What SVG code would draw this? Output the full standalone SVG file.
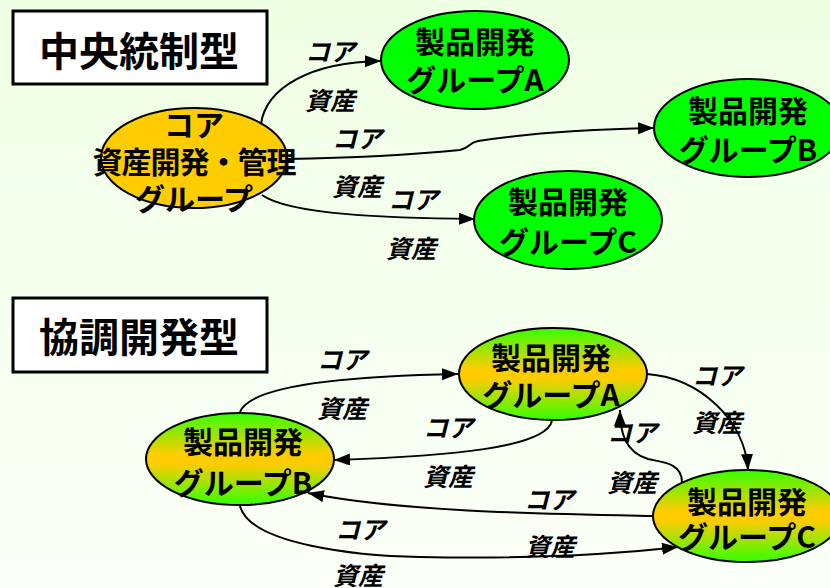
<svg xmlns="http://www.w3.org/2000/svg" width="830" height="588" viewBox="0 0 830 588">
<defs>
<linearGradient id="bg" x1="0" y1="0" x2="0" y2="1">
<stop offset="0" stop-color="#EFFFE4"/>
<stop offset="1" stop-color="#FBFFF8"/>
</linearGradient>
<linearGradient id="mix" x1="0" y1="0" x2="0" y2="1">
<stop offset="0" stop-color="#33FF00"/>
<stop offset="0.45" stop-color="#FFCC00"/>
<stop offset="0.55" stop-color="#FFCC00"/>
<stop offset="1" stop-color="#33FF00"/>
</linearGradient>
<marker id="arr" markerUnits="userSpaceOnUse" markerWidth="18" markerHeight="14" refX="16" refY="6" orient="auto">
<path d="M0,0 L16,6 L0,12 z" fill="#000"/>
</marker>
<style>
text{font-family:"Noto Sans CJK JP","Noto Sans",sans-serif;fill:#000;text-anchor:middle}
.title{font-size:40px;font-weight:bold}
.node{font-size:30px;font-weight:bold}
.lbl{font-size:25px;font-weight:bold;font-style:italic}
.box{fill:#fff;stroke:#000;stroke-width:3}
.ell{stroke:#000;stroke-width:2}
.green{fill:#00FF00}
.core{fill:#FFCC00}
.mixed{fill:url(#mix)}
.conn path{fill:none;stroke:#000;stroke-width:2;marker-end:url(#arr)}
</style>
</defs>
<rect x="0" y="0" width="830" height="588" fill="url(#bg)"/>

<g id="title-top">
<rect class="box" x="13" y="11" width="254" height="73"/>
<text class="title" x="139" y="66">中央統制型</text>
</g>
<g id="title-bottom">
<rect class="box" x="13" y="298" width="254" height="74"/>
<text class="title" x="139" y="352">協調開発型</text>
</g>

<g id="connectors-top" class="conn">
<path d="M261,124 C266,88 310,62 381,61"/>
<path d="M287,159 C350,158 400,156 460,150 C470,148 468,143 478,141 C530,133 600,129 654,128"/>
<path d="M262,195 C290,215 390,218 475,219"/>
</g>
<g id="connectors-bottom" class="conn">
<path d="M240,412 C250,385 350,376 458,374"/>
<path d="M552,421 C545,448 450,456 334,460"/>
<path d="M653,516 C550,514 400,512 308,493"/>
<path d="M240,506 C250,545 360,556 420,557 C520,559 600,556 678,547"/>
<path d="M647,374 C700,378 745,420 748,470"/>
<path d="M682,482 C682,462 660,462 648,459 C625,452 620,432 620,410"/>
</g>

<g id="core">
<ellipse class="ell core" cx="194" cy="158" rx="93" ry="50"/>
<text class="node" x="194" y="136">コア</text>
<text class="node" x="194" y="173" letter-spacing="-1">資産開発・管理</text>
<text class="node" x="194" y="210">グループ</text>
</g>
<g id="top-A">
<ellipse class="ell green" cx="475" cy="60" rx="94" ry="49"/>
<text class="node" x="475" y="53">製品開発</text>
<text class="node" x="475" y="91">グループA</text>
</g>
<g id="top-B">
<ellipse class="ell green" cx="748" cy="128" rx="94" ry="49"/>
<text class="node" x="748" y="122">製品開発</text>
<text class="node" x="748" y="161">グループB</text>
</g>
<g id="top-C">
<ellipse class="ell green" cx="568" cy="220" rx="94" ry="49"/>
<text class="node" x="568" y="213">製品開発</text>
<text class="node" x="568" y="253">グループC</text>
</g>

<g id="bottom-A">
<ellipse class="ell mixed" cx="553" cy="374" rx="94" ry="46"/>
<text class="node" x="551" y="369">製品開発</text>
<text class="node" x="551" y="406">グループA</text>
</g>
<g id="bottom-B">
<ellipse class="ell mixed" cx="240" cy="459" rx="94" ry="46"/>
<text class="node" x="243" y="453">製品開発</text>
<text class="node" x="243" y="494">グループB</text>
</g>
<g id="bottom-C">
<ellipse class="ell mixed" cx="747" cy="516" rx="94" ry="46"/>
<text class="node" x="747" y="513">製品開発</text>
<text class="node" x="747" y="548">グループC</text>
</g>

<g id="labels">
<text class="lbl" x="330" y="61">コア</text>
<text class="lbl" x="330" y="110">資産</text>
<text class="lbl" x="357" y="148">コア</text>
<text class="lbl" x="357" y="196">資産</text>
<text class="lbl" x="413" y="209">コア</text>
<text class="lbl" x="411" y="258">資産</text>
<text class="lbl" x="342" y="369">コア</text>
<text class="lbl" x="342" y="418">資産</text>
<text class="lbl" x="448" y="437">コア</text>
<text class="lbl" x="448" y="486">資産</text>
<text class="lbl" x="549" y="509">コア</text>
<text class="lbl" x="550" y="556">資産</text>
<text class="lbl" x="360" y="539">コア</text>
<text class="lbl" x="358" y="585">資産</text>
<text class="lbl" x="717" y="385">コア</text>
<text class="lbl" x="717" y="432">資産</text>
<text class="lbl" x="632" y="442">コア</text>
<text class="lbl" x="632" y="492">資産</text>
</g>
</svg>
